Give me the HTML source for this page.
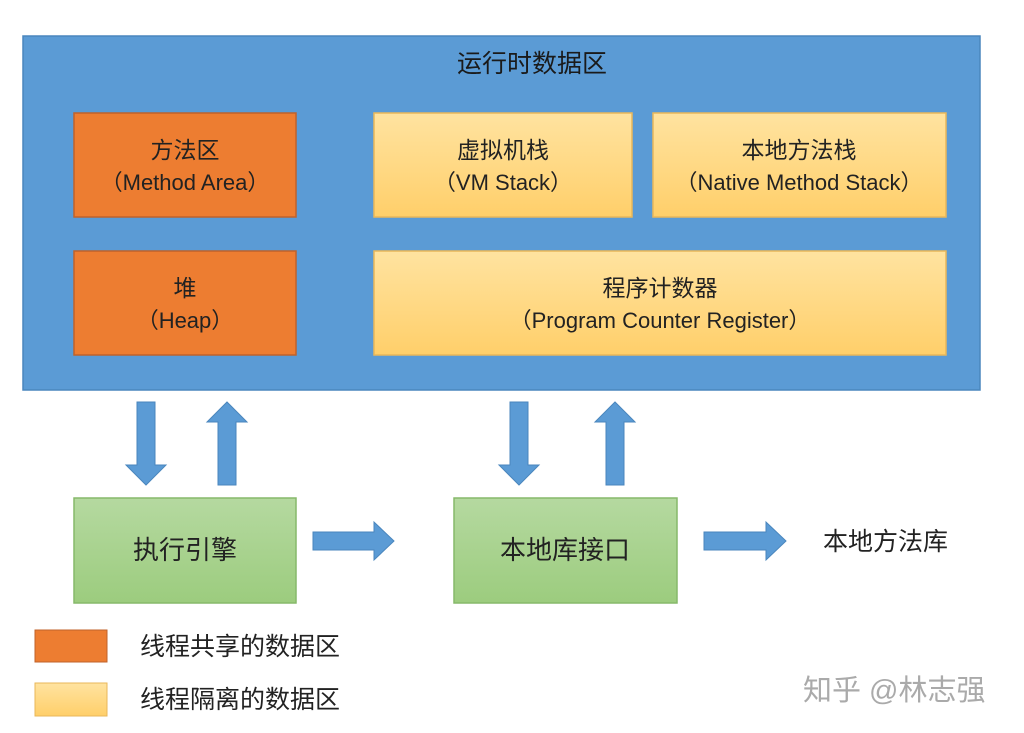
<!DOCTYPE html>
<html><head><meta charset="utf-8"><style>
body{margin:0;background:#fff;}
svg{display:block;font-family:"Liberation Sans","Noto Sans CJK SC",sans-serif;}
</style></head><body>
<svg width="1024" height="733" viewBox="0 0 1024 733">
<defs>
<linearGradient id="y" x1="0" y1="0" x2="0" y2="1"><stop offset="0" stop-color="#ffe3a0"/><stop offset="1" stop-color="#ffcf6a"/></linearGradient>
<linearGradient id="g" x1="0" y1="0" x2="0" y2="1"><stop offset="0" stop-color="#b5d9a0"/><stop offset="1" stop-color="#9ccc7e"/></linearGradient>
</defs>
<rect x="23" y="36" width="957" height="354" fill="#5b9bd5" stroke="#4a86bd" stroke-width="1.5"/>
<text x="532" y="72" font-size="25" text-anchor="middle" fill="#1a1a1a">运行时数据区</text>
<g stroke="#c0622a" stroke-width="1.5" fill="#ed7d31">
<rect x="74" y="113" width="222" height="104"/>
<rect x="74" y="251" width="222" height="104"/>
</g>
<g stroke="#e9b75a" stroke-width="1.5" fill="url(#y)">
<rect x="374" y="113" width="258" height="104"/>
<rect x="653" y="113" width="293" height="104"/>
<rect x="374" y="251" width="572" height="104"/>
</g>
<g font-size="23" text-anchor="middle" fill="#222">
<text x="185" y="158">方法区</text>
<text x="503" y="158">虚拟机栈</text>
<text x="799" y="158">本地方法栈</text>
<text x="185" y="296">堆</text>
<text x="660" y="296">程序计数器</text>
</g>
<g font-size="22" text-anchor="middle" fill="#222">
<text x="185" y="190">（Method Area）</text>
<text x="185" y="328">（Heap）</text>
<text x="503" y="190">（VM Stack）</text>
<text x="799" y="190">（Native Method Stack）</text>
<text x="660" y="328">（Program Counter Register）</text>
</g>
<g fill="#5b9bd5" stroke="#4a86bd" stroke-width="1">
<polygon points="137,402 155,402 155,465 166,465 146,485 126,465 137,465"/>
<polygon points="218,485 236,485 236,422 247,422 227,402 207,422 218,422"/>
<polygon points="510,402 528,402 528,465 539,465 519,485 499,465 510,465"/>
<polygon points="606,485 624,485 624,422 635,422 615,402 595,422 606,422"/>
<polygon points="313,532 374,532 374,522 394,541 374,560 374,550 313,550"/>
<polygon points="704,532 766,532 766,522 786,541 766,560 766,550 704,550"/>
</g>
<g fill="url(#g)" stroke="#86b96a" stroke-width="1.5">
<rect x="74" y="498" width="222" height="105"/>
<rect x="454" y="498" width="223" height="105"/>
</g>
<g font-size="26" text-anchor="middle" fill="#222">
<text x="185" y="559">执行引擎</text>
<text x="565" y="559">本地库接口</text>
</g>
<text x="823" y="550" font-size="25" fill="#222">本地方法库</text>
<rect x="35" y="630" width="72" height="32" fill="#ed7d31" stroke="#c0622a"/>
<rect x="35" y="683" width="72" height="33" fill="url(#y)" stroke="#e9b75a"/>
<text x="140" y="655" font-size="25" fill="#222">线程共享的数据区</text>
<text x="140" y="708" font-size="25" fill="#222">线程隔离的数据区</text>
<text x="803" y="700" font-size="29" fill="#aaa">知乎 @林志强</text>
</svg>
</body></html>
